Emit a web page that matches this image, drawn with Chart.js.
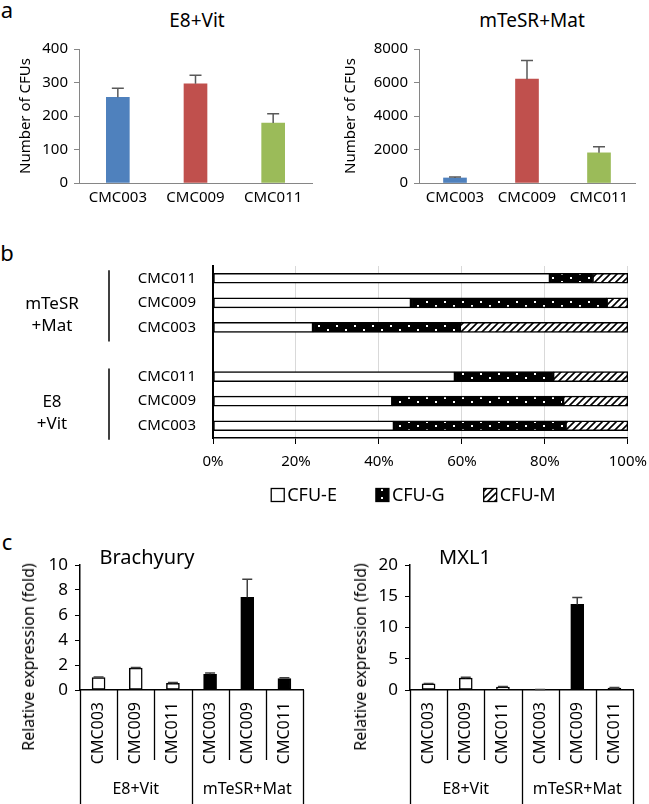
<!DOCTYPE html>
<html lang="en">
<head>
<meta charset="UTF-8">
<title>CFU assays and mesoderm markers</title>
<script src="https://cdn.jsdelivr.net/npm/chart.js"></script>
<style>
  body { margin: 0; background: #fff; font-family: 'Noto Sans', sans-serif; color: #000; }
  #fig { position: relative; width: 649px; height: 804px; overflow: hidden; }
  canvas { position: absolute; }
  .txt { position: absolute; transform: translate(-50%, -50%); white-space: nowrap; line-height: 1; }
  .vtxt { position: absolute; transform: translate(-50%, -50%) rotate(-90deg); white-space: nowrap; line-height: 1; font-size: 16px; }
</style>
</head>
<body>
<div id="fig">
  <div class="txt" style="left:7px; top:9px; font-size:22px;">a</div>
  <div class="txt" style="left:7px; top:252px; font-size:22px;">b</div>
  <div class="txt" style="left:7px; top:541px; font-size:22px;">c</div>

  <div class="txt" style="left:197px; top:20px; font-size:19px;">E8+Vit</div>
  <div class="txt" style="left:532px; top:20px; font-size:19px;">mTeSR+Mat</div>
  <canvas id="a1" width="320" height="222" style="left:0; top:0;"></canvas>
  <canvas id="a2" width="329" height="222" style="left:320px; top:0;"></canvas>

  <canvas id="b" width="656" height="270" style="left:0; top:240px;"></canvas>

  <canvas id="c1" width="320" height="264" style="left:0; top:540px;"></canvas>
  <canvas id="c2" width="329" height="264" style="left:320px; top:540px;"></canvas>
  <div class="txt" style="left:147px; top:557px; font-size:20px;">Brachyury</div>
  <div class="txt" style="left:465px; top:557px; font-size:20px;">MXL1</div>
  <div class="vtxt" style="left:28px; top:657px;">Relative expression (fold)</div>
  <div class="vtxt" style="left:360px; top:657px;">Relative expression (fold)</div>
</div>

<script>
// ---- data ----
// panel a: colony counts
const aLabels = ['CMC003', 'CMC009', 'CMC011'];
const e8Cfu = [256, 296, 179];
const e8CfuErr = [27, 26, 28];
const mtesrCfu = [300, 6200, 1800];
const mtesrCfuErr = [60, 1120, 360];
const aColors = ['#4F81BD', '#C0504D', '#9BBB59'];

// panel b: colony type fractions (%), blank row separates the two media
const bRows = ['CMC011', 'CMC009', 'CMC003', '', 'CMC011', 'CMC009', 'CMC003'];
const cfuE = [81.2, 47.7, 24.1, null, 58.3, 43.2, 43.6];
const cfuG = [10.3, 47.2, 35.4, null, 23.7, 41.2, 41.4];
const cfuM = [8.5, 5.1, 40.5, null, 18.0, 15.6, 15.0];
const bGroupNames = [['mTeSR', '+Mat'], ['E8', '+Vit']];
const bGroupRows = [[0, 2], [4, 6]];

// panel c: qPCR
const cLabels = ['CMC003', 'CMC009', 'CMC011', 'CMC003', 'CMC009', 'CMC011'];
const cGroups = ['E8+Vit', 'mTeSR+Mat'];
const cGroupSize = 3;
const brachyury = [1.0, 1.75, 0.53, 1.26, 7.42, 0.92];
const brachyuryErr = [0.04, 0.05, 0.08, 0.1, 1.45, 0.06];
const mxl1 = [1.0, 1.9, 0.45, 0.06, 13.7, 0.3];
const mxl1Err = [0.05, 0.15, 0.1, 0.02, 1.1, 0.1];

Chart.defaults.font.family = "'Noto Sans', sans-serif";
Chart.defaults.color = '#000';
Chart.defaults.animation = false;

const fixWidth = w => scale => { scale.width = w; };
const fixHeight = h => scale => { scale.height = h; };

// upward error bars with a cap
const errorBars = {
  id: 'errorBars',
  afterDatasetsDraw(chart, args, opts) {
    const ctx = chart.ctx, y = chart.scales.y;
    chart.data.datasets.forEach((ds, di) => {
      if (!ds.errors) return;
      chart.getDatasetMeta(di).data.forEach((bar, i) => {
        const err = ds.errors[i];
        if (!err) return;
        const top = y.getPixelForValue(ds.data[i] + err);
        ctx.save();
        ctx.strokeStyle = opts.color;
        ctx.lineWidth = opts.width;
        ctx.beginPath();
        ctx.moveTo(bar.x, bar.y);
        ctx.lineTo(bar.x, top);
        ctx.moveTo(bar.x - opts.cap / 2, top);
        ctx.lineTo(bar.x + opts.cap / 2, top);
        ctx.stroke();
        ctx.restore();
      });
    });
  }
};

// two level category axis for panel c
const groupAxis = {
  id: 'groupAxis',
  afterDraw(chart, args, opts) {
    const ctx = chart.ctx, x = chart.scales.x;
    const bottom = chart.chartArea.bottom;
    const n = chart.data.labels.length;
    ctx.save();
    ctx.strokeStyle = '#000';
    ctx.lineWidth = 1.3;
    for (let i = 0; i <= n; i++) {
      const px = Math.round(x.getPixelForValue(i - 0.5)) + 0.5;
      const end = i % cGroupSize === 0 ? chart.height : bottom + opts.tick;
      ctx.beginPath();
      ctx.moveTo(px, bottom);
      ctx.lineTo(px, end);
      ctx.stroke();
    }
    ctx.fillStyle = '#000';
    ctx.font = "16px 'Noto Sans'";
    ctx.textAlign = 'center';
    ctx.textBaseline = 'middle';
    cGroups.forEach((name, g) => {
      const x0 = x.getPixelForValue(g * cGroupSize - 0.5);
      const x1 = x.getPixelForValue((g + 1) * cGroupSize - 0.5);
      ctx.fillText(name, (x0 + x1) / 2, opts.labelY);
    });
    ctx.restore();
  }
};

// medium brackets left of panel b
const rowGroups = {
  id: 'rowGroups',
  afterDraw(chart, args, opts) {
    const ctx = chart.ctx, y = chart.scales.y;
    ctx.save();
    ctx.strokeStyle = '#000';
    ctx.lineWidth = 1.5;
    ctx.fillStyle = '#000';
    ctx.font = "17px 'Noto Sans'";
    ctx.textAlign = 'center';
    ctx.textBaseline = 'middle';
    bGroupRows.forEach((rows, g) => {
      const y0 = y.getPixelForValue(rows[0]);
      const y1 = y.getPixelForValue(rows[1]);
      ctx.beginPath();
      ctx.moveTo(opts.lineX, y0 - 8);
      ctx.lineTo(opts.lineX, y1 + 14);
      ctx.stroke();
      const lines = bGroupNames[g];
      const mid = (y0 + y1) / 2 + 12;
      lines.forEach((t, k) => ctx.fillText(t, opts.labelX, mid + (k - (lines.length - 1) / 2) * 22));
    });
    ctx.restore();
  }
};

// legend with tight box/text spacing, drawn from the datasets
const swatchLegend = {
  id: 'swatchLegend',
  afterDraw(chart, args, opts) {
    const ctx = chart.ctx;
    const sets = chart.data.datasets;
    ctx.save();
    ctx.font = opts.font;
    ctx.textBaseline = 'middle';
    ctx.textAlign = 'left';
    const widths = sets.map(ds => opts.box + opts.gap + ctx.measureText(ds.label).width);
    const total = widths.reduce((a, b) => a + b, 0) + opts.spacing * (sets.length - 1);
    const area = chart.chartArea;
    let x = (area.left + area.right) / 2 + opts.shift - total / 2;
    const y = area.bottom + opts.offset;
    sets.forEach((ds, i) => {
      ctx.fillStyle = ds.backgroundColor;
      ctx.fillRect(x, y - opts.box / 2, opts.box, opts.box);
      ctx.strokeStyle = '#000';
      ctx.lineWidth = 1.3;
      ctx.strokeRect(x, y - opts.box / 2, opts.box, opts.box);
      ctx.fillStyle = '#000';
      ctx.fillText(ds.label, x + opts.box + opts.gap, y + 1);
      x += widths[i] + opts.spacing;
    });
    ctx.restore();
  }
};

function dotPattern() {
  const c = document.createElement('canvas');
  c.width = 18; c.height = 8;
  const g = c.getContext('2d');
  g.fillStyle = '#000';
  g.fillRect(0, 0, 18, 8);
  g.fillStyle = '#fff';
  g.fillRect(3, 1, 2, 2);
  g.fillRect(12, 5, 2, 2);
  return g.createPattern(c, 'repeat');
}

function hatchPattern() {
  const s = 7;
  const c = document.createElement('canvas');
  c.width = s; c.height = s;
  const g = c.getContext('2d');
  g.fillStyle = '#fff';
  g.fillRect(0, 0, s, s);
  g.strokeStyle = '#000';
  g.lineWidth = 1.6;
  g.beginPath();
  g.moveTo(-1, s + 1); g.lineTo(s + 1, -1);
  g.moveTo(-1, 1); g.lineTo(1, -1);
  g.moveTo(s - 1, s + 1); g.lineTo(s + 1, s - 1);
  g.stroke();
  return g.createPattern(c, 'repeat');
}

// ---- panel a ----
function cfuChart(id, values, errs, max, step, padRight, yWidth, titlePad) {
  new Chart(document.getElementById(id), {
    type: 'bar',
    data: {
      labels: aLabels,
      datasets: [{ data: values, errors: errs, backgroundColor: aColors, barThickness: 23 }]
    },
    options: {
      responsive: false,
      layout: { padding: { top: 49, right: padRight, left: 0, bottom: 0 } },
      plugins: {
        legend: { display: false },
        tooltip: { enabled: false },
        errorBars: { color: '#595959', width: 1.5, cap: 12 }
      },
      scales: {
        x: {
          grid: { drawOnChartArea: false, drawTicks: false },
          border: { color: '#868686', width: 1 },
          ticks: { padding: 6, font: { size: 15 } },
          afterFit: fixHeight(39)
        },
        y: {
          min: 0, max: max,
          ticks: { stepSize: step, padding: 6, font: { size: 15 }, callback: v => String(v) },
          grid: { drawOnChartArea: false, tickLength: 5, color: '#868686' },
          border: { color: '#868686', width: 1 },
          title: { display: true, text: 'Number of CFUs', font: { size: 15 }, padding: { top: titlePad, bottom: 0 } },
          afterFit: fixWidth(yWidth)
        }
      }
    },
    plugins: [errorBars]
  });
}
cfuChart('a1', e8Cfu, e8CfuErr, 400, 100, 8, 79, 17);
cfuChart('a2', mtesrCfu, mtesrCfuErr, 8000, 2000, 14, 99, 22);

// ---- panel b ----
const bSets = [
  { label: 'CFU-E', data: cfuE, backgroundColor: '#fff' },
  { label: 'CFU-G', data: cfuG, backgroundColor: dotPattern() },
  { label: 'CFU-M', data: cfuM, backgroundColor: hatchPattern() }
].map(d => Object.assign(d, { borderColor: '#000', borderWidth: 1.5, borderSkipped: false, barThickness: 10 }));

new Chart(document.getElementById('b'), {
  type: 'bar',
  data: { labels: bRows, datasets: bSets },
  options: {
    responsive: false,
    indexAxis: 'y',
    layout: { padding: { top: 25, right: 21, left: 0, bottom: 38 } },
    plugins: {
      legend: { display: false },
      tooltip: { enabled: false },
      rowGroups: { lineX: 109, labelX: 52 },
      swatchLegend: { font: "18px 'Noto Sans'", box: 13, gap: 3, spacing: 39, shift: -7, offset: 57 }
    },
    scales: {
      x: {
        stacked: true, min: 0, max: 100,
        ticks: { stepSize: 20, padding: 9, font: { size: 15 }, callback: v => v + '%' },
        grid: { color: '#d9d9d9', tickColor: '#000', tickLength: 6 },
        border: { color: '#000', width: 1.5 },
        afterFit: fixHeight(34)
      },
      y: {
        stacked: true,
        grid: { drawOnChartArea: false, drawTicks: false },
        border: { color: '#000', width: 2 },
        ticks: { padding: 17, font: { size: 15 } },
        afterFit: fixWidth(213)
      }
    }
  },
  plugins: [rowGroups, swatchLegend]
});

// ---- panel c ----
function exprChart(id, values, errs, max, step, padRight, yWidth) {
  new Chart(document.getElementById(id), {
    type: 'bar',
    data: {
      labels: cLabels,
      datasets: [{
        data: values, errors: errs,
        backgroundColor: cLabels.map((_, i) => i < cGroupSize ? '#fff' : '#000'),
        borderColor: '#000', borderWidth: 1.5, borderSkipped: false, barThickness: 13
      }]
    },
    options: {
      responsive: false,
      layout: { padding: { top: 25, right: padRight, left: 0, bottom: 0 } },
      plugins: {
        legend: { display: false },
        tooltip: { enabled: false },
        errorBars: { color: '#404040', width: 1.5, cap: 10 },
        groupAxis: { tick: 70, labelY: 249 }
      },
      scales: {
        x: {
          grid: { drawOnChartArea: false, drawTicks: false },
          border: { color: '#000', width: 1.5 },
          ticks: { minRotation: 90, maxRotation: 90, autoSkip: false, padding: 12, font: { size: 16 } },
          afterFit: fixHeight(114)
        },
        y: {
          min: 0, max: max,
          ticks: { stepSize: step, padding: 7, font: { size: 17 } },
          grid: { drawOnChartArea: false, tickLength: 5, color: '#000' },
          border: { color: '#000', width: 1.5 },
          afterFit: fixWidth(yWidth)
        }
      }
    },
    plugins: [errorBars, groupAxis]
  });
}
exprChart('c1', brachyury, brachyuryErr, 10, 2, 17, 80);
exprChart('c2', mxl1, mxl1Err, 20, 5, 16, 90);
</script>
</body>
</html>
